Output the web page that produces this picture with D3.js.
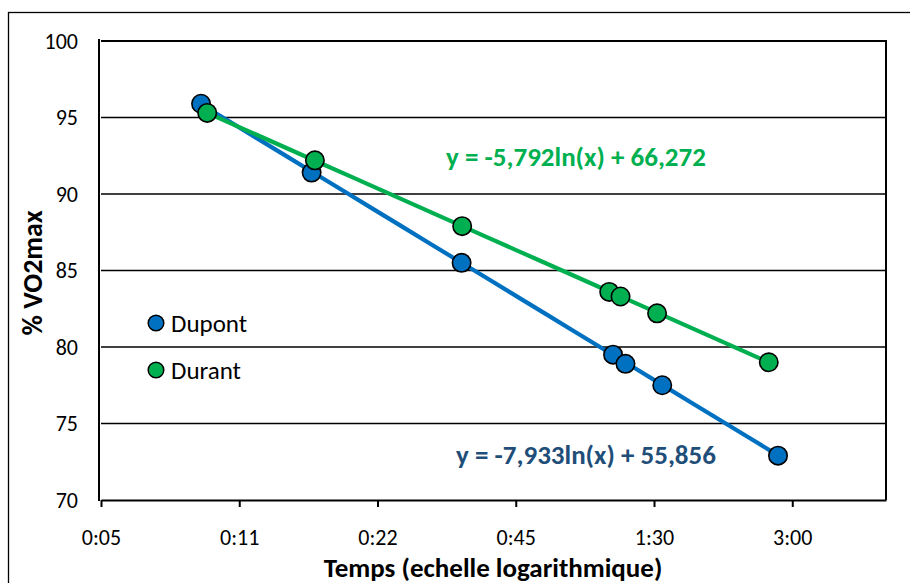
<!DOCTYPE html>
<html>
<head>
<meta charset="utf-8">
<script src="https://cdn.jsdelivr.net/npm/d3@7"></script>
<style>
  html, body { margin: 0; padding: 0; background: #fff; }
  svg { display: block; font-family: Carlito, Lato, "Open Sans", sans-serif; }
</style>
</head>
<body>
<svg id="chart" width="910" height="583"></svg>
<script>
// Durée de l'effort (minutes) et % VO2max atteint
const dupontMinutes = [9.29, 16.17, 34.3, 73.3, 78.0, 93.8, 167.6];
const dupontValues  = [95.9, 91.4, 85.5, 79.5, 78.9, 77.5, 72.9];
const durantMinutes = [9.58, 16.44, 34.4, 71.9, 76.1, 91.4, 160.0];
const durantValues  = [95.3, 92.2, 87.9, 83.6, 83.3, 82.2, 79.0];

// Régressions logarithmiques (x en jours)
const dupontFit = { a: -7.933, b: 55.856, label: "y = -7,933ln(x) + 55,856" };
const durantFit = { a: -5.792, b: 66.272, label: "y = -5,792ln(x) + 66,272" };

// Axe des temps : fractions de journée, base 2
const xTickDays   = [1/256, 1/128, 1/64, 1/32, 1/16, 1/8];
const xTickLabels = ["0:05", "0:11", "0:22", "0:45", "1:30", "3:00"];
const xDomainDays = [1/256, 0.2];
const yTicks      = [70, 75, 80, 85, 90, 95, 100];
const yDomain     = [70, 100];

const series = [
  { name: "Dupont", minutes: dupontMinutes, values: dupontValues, fit: dupontFit,
    color: "#0070C0", textColor: "#1F4E79", labelX: 586, labelY: 464 },
  { name: "Durant", minutes: durantMinutes, values: durantValues, fit: durantFit,
    color: "#00B050", textColor: "#00B050", labelX: 576, labelY: 166 }
];

const svg = d3.select("#chart");
const plotLeft = 101, plotRight = 886, plotTop = 41, plotBottom = 500;

const x = d3.scaleLog().base(2).domain(xDomainDays).range([plotLeft, plotRight]);
const y = d3.scaleLinear().domain(yDomain).range([plotBottom, plotTop]);
const toDays = m => m / 1440;
const fontStack = "Carlito, Lato, 'Open Sans', sans-serif";

// Cadre extérieur
svg.append("rect")
  .attr("x", 8.5).attr("y", 12.5).attr("width", 930).attr("height", 600)
  .attr("fill", "none").attr("stroke", "#000").attr("stroke-width", 1.3);

// Quadrillage horizontal
svg.append("g")
  .selectAll("line")
  .data(yTicks.filter(v => v > yDomain[0]))
  .join("line")
  .attr("x1", plotLeft).attr("x2", plotRight)
  .attr("y1", d => y(d)).attr("y2", d => y(d))
  .attr("stroke", "#000").attr("stroke-width", d => d === yDomain[1] ? 2 : 1.4);

// Bordure droite de la zone de tracé
svg.append("line")
  .attr("x1", plotRight).attr("x2", plotRight).attr("y1", plotTop - 1).attr("y2", plotBottom)
  .attr("stroke", "#000").attr("stroke-width", 2);

// Axe Y
const yAxis = svg.append("g").attr("transform", `translate(${plotLeft - 2},0)`)
  .call(d3.axisLeft(y).tickValues(yTicks).tickSize(0).tickPadding(21));
yAxis.select(".domain").attr("stroke", "#000").attr("stroke-width", 2)
  .attr("d", `M0,${plotTop - 2}V${plotBottom + 1}`);
yAxis.selectAll("text").attr("font-size", 22).attr("fill", "#000")
  .attr("font-family", fontStack);

// Axe X
const xAxis = svg.append("g").attr("transform", `translate(0,${plotBottom})`)
  .call(d3.axisBottom(x).tickValues(xTickDays)
    .tickFormat((d, i) => xTickLabels[i]).tickSize(7).tickSizeOuter(0).tickPadding(22));
xAxis.select(".domain").attr("stroke", "#000").attr("stroke-width", 2.2);
xAxis.selectAll(".tick line").attr("stroke", "#000").attr("stroke-width", 2);
xAxis.selectAll("text").attr("font-size", 22).attr("fill", "#000")
  .attr("font-family", fontStack);

// Courbes de tendance (droites sur l'échelle logarithmique)
const line = d3.line().x(d => x(d[0])).y(d => y(d[1]));
series.forEach(s => {
  const d0 = toDays(d3.min(s.minutes)), d1 = toDays(d3.max(s.minutes));
  const pts = d3.range(0, 21).map(i => {
    const t = Math.exp(Math.log(d0) + (Math.log(d1) - Math.log(d0)) * i / 20);
    return [t, s.fit.a * Math.log(t) + s.fit.b];
  });
  svg.append("path").datum(pts).attr("d", line)
    .attr("fill", "none").attr("stroke", s.color).attr("stroke-width", 4.2);
});

// Points de mesure
series.forEach(s => {
  svg.append("g").selectAll("circle")
    .data(s.minutes.map((m, i) => [toDays(m), s.values[i]]))
    .join("circle")
    .attr("cx", d => x(d[0])).attr("cy", d => y(d[1])).attr("r", 9.2)
    .attr("fill", s.color).attr("stroke", "#000").attr("stroke-width", 1.6);
});

// Équations des régressions
series.forEach(s => {
  svg.append("text")
    .attr("x", s.labelX).attr("y", s.labelY)
    .attr("text-anchor", "middle")
    .attr("font-size", 27).attr("font-weight", "bold")
    .attr("fill", s.textColor)
    .text(s.fit.label);
});

// Légende
const legend = svg.append("g");
series.forEach((s, i) => {
  const ly = 323 + i * 47;
  legend.append("circle").attr("cx", 156).attr("cy", ly).attr("r", 7.8)
    .attr("fill", s.color).attr("stroke", "#000").attr("stroke-width", 1.5);
  legend.append("text").attr("x", 171).attr("y", ly + 9)
    .attr("font-size", 25).attr("fill", "#000").text(s.name);
});

// Titres des axes
svg.append("text")
  .attr("x", 493).attr("y", 577).attr("text-anchor", "middle")
  .attr("font-size", 27).attr("font-weight", "bold").attr("fill", "#000")
  .text("Temps (echelle logarithmique)");
svg.append("text")
  .attr("transform", "translate(42,273) rotate(-90)")
  .attr("text-anchor", "middle")
  .attr("font-size", 28).attr("font-weight", "bold").attr("fill", "#000")
  .text("% VO2max");
</script>
</body>
</html>
